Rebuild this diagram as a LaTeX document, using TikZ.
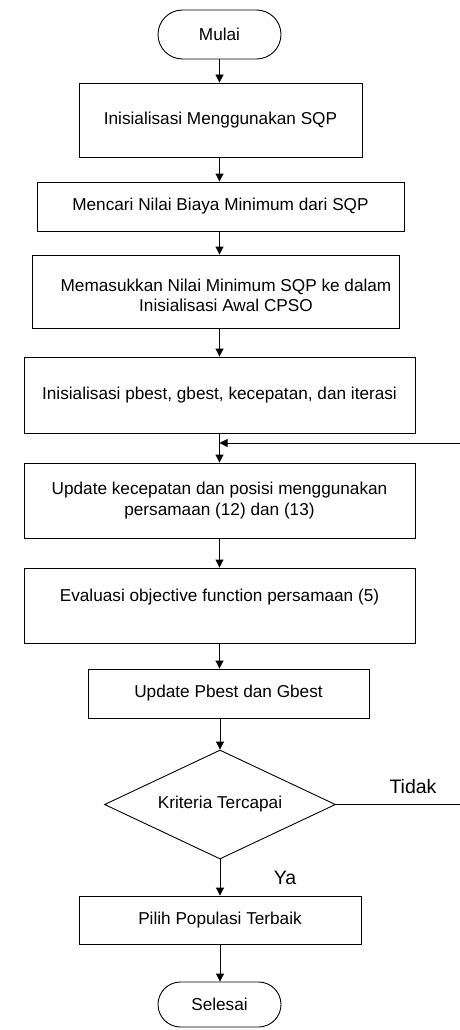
\documentclass[tikz,border=0pt]{standalone}
\usepackage{fontspec}
\setmainfont{Liberation Sans}
\usetikzlibrary{arrows.meta,shapes.geometric}
\newcommand{\boxfont}{\fontsize{17.2}{20.5}\selectfont}
\newcommand{\lblfont}{\fontsize{19.5}{22}\selectfont}
\begin{document}
\begin{tikzpicture}[x=1pt,y=-1pt,
  line width=0.9pt,
  stepbox/.style={draw, inner sep=0pt, align=center, font=\boxfont},
  termbox/.style={stepbox, rounded corners=24.5pt},
  plain/.style={inner sep=0pt, align=center, font=\boxfont},
  lbl/.style={inner sep=0pt, font=\lblfont},
  arr/.style={-{Triangle[length=8pt,width=8pt]}},
  dec/.style={draw, diamond, aspect=2.1, inner sep=0pt, font=\boxfont}]
\useasboundingbox (0,0) rectangle (460,1030);
\fill[white] (0,0) rectangle (460,1030);

\node[termbox, minimum width=123pt, minimum height=49pt] (start) at (219.5,34.5) {Mulai};
\node[stepbox, minimum width=283pt, minimum height=74pt] (b1) at (220.5,120) {Inisialisasi Menggunakan SQP};
\node[stepbox, minimum width=367pt, minimum height=49pt] (b2) at (220.5,206.5) {Mencari Nilai Biaya Minimum dari SQP};
\node[stepbox, minimum width=367pt, minimum height=73pt] (b3) at (215.5,291.5) {};
\node[plain] (b3t) at (226,295.5) {Memasukkan Nilai Minimum SQP ke dalam\\Inisialisasi Awal CPSO};
\node[stepbox, minimum width=391pt, minimum height=76pt] (b4) at (219.5,395) {Inisialisasi pbest, gbest, kecepatan, dan iterasi};
\node[stepbox, minimum width=391pt, minimum height=75pt] (b5) at (219.5,500.5) {Update kecepatan dan posisi menggunakan\\persamaan (12) dan (13)};
\node[stepbox, minimum width=391pt, minimum height=75pt] (b6) at (219.5,605.5) {};
\node[plain] (b6t) at (219.5,597) {Evaluasi objective function persamaan (5)};
\node[stepbox, minimum width=281pt, minimum height=49pt] (b7) at (228.5,693.5) {Update Pbest dan Gbest};
\node[dec, minimum width=231pt, minimum height=109pt] (dia) at (220,804.5) {Kriteria Tercapai};
\node[stepbox, minimum width=282pt, minimum height=48pt] (b8) at (220,920) {Pilih Populasi Terbaik};
\node[termbox, minimum width=123pt, minimum height=45pt, rounded corners=22.5pt] (stop) at (219.5,1004.5) {Selesai};

\node[lbl] (tidak) at (413,787) {Tidak};
\node[lbl] (ya) at (285,878) {Ya};

\coordinate (fbR) at (460,443);
\coordinate (tR) at (460,804.5);

\draw[arr] (start.south) -- (start.south |- b1.north);
\draw[arr] (b1.south -| start.south) -- (start.south |- b2.north);
\draw[arr] (b2.south -| start.south) -- (start.south |- b3.north);
\draw[arr] (b3.south -| start.south) -- (start.south |- b4.north);
\draw[arr] (b4.south) -- (b5.north);
\draw[arr] (fbR) -- (b4.south |- fbR);
\draw[arr] (b5.south) -- (b6.north);
\draw[arr] (b6.south) -- (b6.south |- b7.north);
\draw[arr] (b7.south -| dia.north) -- (dia.north);
\draw (dia.east) -- (tR);
\draw[arr] (dia.south) -- (b8.north);
\draw[arr] (b8.south) -- (b8.south |- stop.north);
\end{tikzpicture}
\end{document}
